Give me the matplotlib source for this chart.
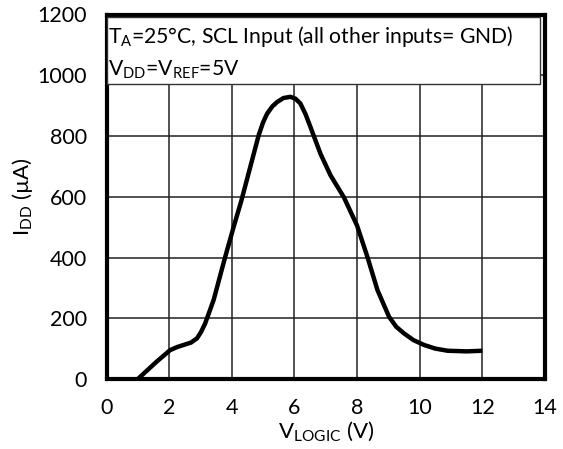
import matplotlib
matplotlib.use("Agg")
import matplotlib.pyplot as plt
from matplotlib.patches import Rectangle

plt.rcParams['font.family'] = ['Lato', 'DejaVu Sans']
plt.rcParams['mathtext.fontset'] = 'custom'
plt.rcParams['mathtext.rm'] = 'Lato'
plt.rcParams['mathtext.it'] = 'Lato'

v_logic = [1.0, 1.6, 2.03, 2.25, 2.46, 2.7, 2.89, 3.02, 3.15, 3.42, 3.79, 4.06, 4.3, 4.59, 4.86, 5.0, 5.13,
           5.3, 5.45, 5.65, 5.87, 6.03, 6.19, 6.35, 6.51, 6.83, 7.15, 7.58, 8.0, 8.33, 8.65, 9.02, 9.25, 9.5,
           9.8, 10.14, 10.5, 10.89, 11.5, 12.0]
i_dd = [0, 57, 95, 105, 112, 120, 134, 155, 183, 260, 402, 501, 585, 698, 803, 845, 874,
        898, 912, 925, 929, 923, 907, 873, 830, 742, 671, 598, 505, 402, 293, 205, 172, 150,
        128, 112, 100, 93, 91, 93]

xticks = [0, 2, 4, 6, 8, 10, 12, 14]
yticks = [0, 200, 400, 600, 800, 1000, 1200]
line1 = r'T$_{\mathregular{A}}$=25°C, SCL Input (all other inputs= GND)'
line2 = r'V$_{\mathregular{DD}}$=V$_{\mathregular{REF}}$=5V'

fig = plt.figure(figsize=(5.63, 4.49), dpi=100)
ax = fig.add_axes([106.5/563, 1 - 379/449, (545 - 106.5)/563, (379 - 14.5)/449])
ax.plot(v_logic, i_dd, color='black', lw=3.2, solid_capstyle='butt',
        solid_joinstyle='round', zorder=3)
ax.set_xlim(0, 14)
ax.set_ylim(0, 1200)
ax.set_xticks(xticks)
ax.set_yticks(yticks)
ax.grid(True, color='#222222', lw=1.1)
ax.tick_params(length=0, labelsize=15.5)
ax.tick_params(axis='y', pad=14)
ax.tick_params(axis='x', pad=14)
for s in ax.spines.values():
    s.set_linewidth(3)
ax.set_xlabel(r'V$_{\mathregular{LOGIC}}$ (V)', fontsize=16, labelpad=1)
ax.set_ylabel(r'I$_{\mathregular{DD}}$ (µA)', fontsize=16, labelpad=2)

ax.add_patch(Rectangle((0, 0.809), 0.9886, 0.184, transform=ax.transAxes,
                       fc='white', ec='#333333', lw=1.0, zorder=4))
ax.text(0.004, 0.941, line1, transform=ax.transAxes, fontsize=15.2,
        va='center', ha='left', zorder=5)
ax.text(0.004, 0.848, line2, transform=ax.transAxes, fontsize=15.2,
        va='center', ha='left', zorder=5)

fig.savefig('out.png', dpi=100)
